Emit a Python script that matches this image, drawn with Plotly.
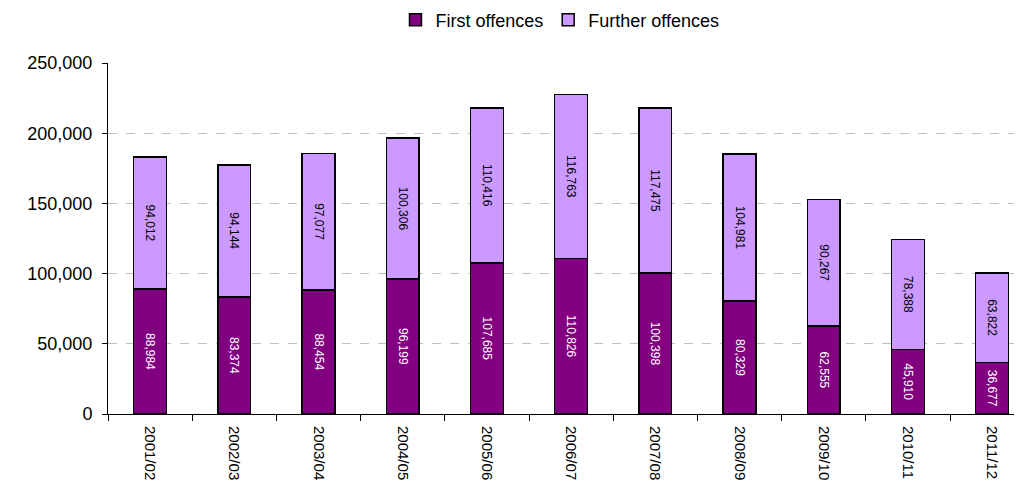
import plotly.graph_objects as go

years = ["2001/02", "2002/03", "2003/04", "2004/05", "2005/06", "2006/07",
         "2007/08", "2008/09", "2009/10", "2010/11", "2011/12"]
first_offences = [88984, 83374, 88454, 96199, 107685, 110826,
                  100398, 80329, 62555, 45910, 36677]
further_offences = [94012, 94144, 97077, 100306, 110416, 116763,
                    117475, 104981, 90267, 78388, 63822]

FONT = "Liberation Sans, Arial, sans-serif"

fig = go.Figure()
fig.add_trace(go.Bar(
    name="First offences", x=years, y=first_offences,
    marker=dict(color="#800080", line=dict(color="black", width=1.5)),
    text=[f"{v:,}" for v in first_offences], textposition="inside",
    insidetextanchor="middle", textangle=90, constraintext="none",
    textfont=dict(color="white", size=12, family=FONT), width=0.39,
))
fig.add_trace(go.Bar(
    name="Further offences", x=years, y=further_offences,
    marker=dict(color="#CC99FF", line=dict(color="black", width=1.5)),
    text=[f"{v:,}" for v in further_offences], textposition="inside",
    insidetextanchor="middle", textangle=90, constraintext="none",
    textfont=dict(color="black", size=12, family=FONT), width=0.39,
))

fig.update_layout(
    barmode="stack",
    width=1014, height=482,
    margin=dict(l=100, r=0, t=55, b=76, autoexpand=False),
    plot_bgcolor="white", paper_bgcolor="white",
    font=dict(family=FONT, color="black"),
    legend=dict(orientation="h", x=0.4945, xanchor="center", y=1.1225, yanchor="middle",
                font=dict(size=18, family=FONT), traceorder="normal",
                itemwidth=30),
    xaxis=dict(range=[-0.5, 10.355], tickangle=90, tickson="boundaries",
               ticks="outside", ticklen=6, tickcolor="black", automargin=False,
               ticklabelstandoff=8,
               showline=True, linecolor="black", linewidth=1,
               tickfont=dict(size=15, family=FONT), showgrid=False),
    yaxis=dict(range=[0, 250000], dtick=50000, tickformat=",d",
               ticks="outside", ticklen=5, tickcolor="black", automargin=False,
               ticklabelstandoff=6,
               showline=True, linecolor="black", linewidth=1,
               showgrid=True, gridcolor="#C0C0C0", griddash="dash", gridwidth=1,
               zeroline=False, tickfont=dict(size=18, family=FONT)),
)

fig.write_html("out.html")
